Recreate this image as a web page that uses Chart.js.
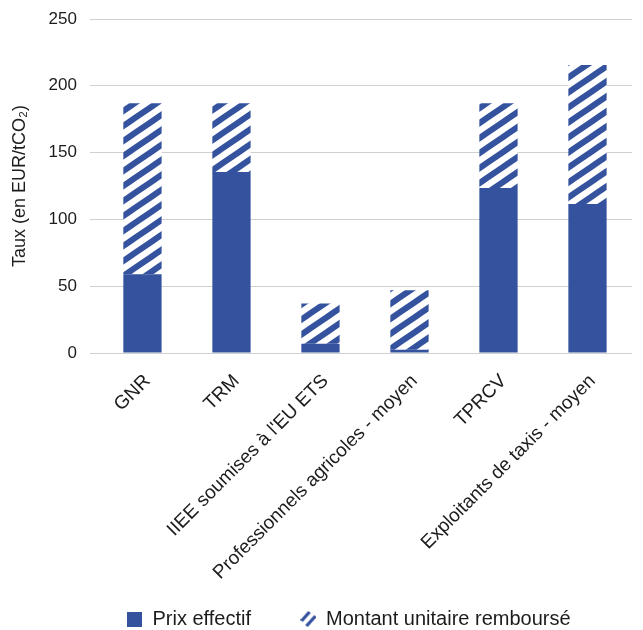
<!DOCTYPE html>
<html>
<head>
<meta charset="utf-8">
<script src="https://cdn.jsdelivr.net/npm/chart.js@4/dist/chart.umd.min.js"></script>
<style>
  html, body { margin: 0; padding: 0; background: #ffffff; }
  #wrap { width: 643px; height: 630px; position: relative; }
</style>
</head>
<body>
<div id="wrap"><canvas id="c"></canvas></div>
<script>
const categories = ["GNR", "TRM", "IIEE soumises à l'EU ETS", "Professionnels agricoles - moyen", "TPRCV", "Exploitants de taxis - moyen"];
const prixEffectif = [59, 135.5, 7, 2.5, 123.5, 111.5];
const montantRembourse = [128, 51.5, 30, 44.5, 63.5, 104];
const yTicks = [0, 50, 100, 150, 200, 250];
const seriesNames = ["Prix effectif", "Montant unitaire remboursé"];

const BLUE = '#34529d';
const TEXT = '#1c1c1c';

function makeHatch() {
  const w = 22, h = 15;
  const c = document.createElement('canvas');
  c.width = w; c.height = h;
  const ctx = c.getContext('2d');
  ctx.fillStyle = '#ffffff';
  ctx.fillRect(0, 0, w, h);
  ctx.strokeStyle = BLUE;
  ctx.lineWidth = 6;
  for (let n = -1; n <= 1; n++) {
    ctx.beginPath();
    ctx.moveTo(-w, h + h + n * h);
    ctx.lineTo(2 * w, h - 2 * h + n * h);
    ctx.stroke();
  }
  return c;
}
const hatch = document.createElement('canvas').getContext('2d').createPattern(makeHatch(), 'repeat');

function solidIcon() {
  const c = document.createElement('canvas');
  c.width = 15; c.height = 15;
  const ctx = c.getContext('2d');
  ctx.fillStyle = BLUE;
  ctx.fillRect(0, 0, 15, 15);
  return c;
}
function hatchIcon() {
  const c = document.createElement('canvas');
  c.width = 16; c.height = 16;
  const ctx = c.getContext('2d');
  ctx.strokeStyle = BLUE;
  ctx.lineWidth = 3.2;
  ctx.lineCap = 'butt';
  ctx.beginPath(); ctx.moveTo(1, 10); ctx.lineTo(9, 1); ctx.stroke();
  ctx.beginPath(); ctx.moveTo(6, 15); ctx.lineTo(15, 5); ctx.stroke();
  return c;
}
const icons = [solidIcon(), hatchIcon()];

const legendTrim = {
  id: 'legendTrim',
  beforeLayout(chart) {
    const lg = chart.legend;
    if (lg && !lg._trimmed) {
      const f = lg.fit;
      lg.fit = function () { f.call(this); this.height = this.height - 9; };
      lg._trimmed = true;
    }
  },
  afterLayout(chart) {
    const lg = chart.legend;
    if (lg) { lg.left += 31; lg.right += 31; }
  }
};

Chart.defaults.font.family = "'Liberation Sans', Arial, Helvetica, sans-serif";
Chart.defaults.color = TEXT;

new Chart(document.getElementById('c'), {
  type: 'bar',
  data: {
    labels: categories,
    datasets: [
      { label: seriesNames[0], data: prixEffectif, backgroundColor: BLUE, borderWidth: 0, categoryPercentage: 1, barPercentage: 0.43, pointStyle: icons[0] },
      { label: seriesNames[1], data: montantRembourse, backgroundColor: hatch, borderWidth: 0, categoryPercentage: 1, barPercentage: 0.43, pointStyle: icons[1] }
    ]
  },
  plugins: [legendTrim],
  options: {
    responsive: true,
    maintainAspectRatio: false,
    animation: false,
    layout: { padding: { top: 3, right: 11, left: 4, bottom: 0 } },
    plugins: {
      tooltip: { enabled: false },
      legend: {
        position: 'bottom',
        labels: {
          usePointStyle: true,
          boxWidth: 15, boxHeight: 15, padding: 50,
          font: { size: 20 },
          color: TEXT
        }
      }
    },
    scales: {
      x: {
        stacked: true,
        grid: { display: false },
        border: { display: false },
        afterFit: (s) => {
          s.height = 206;
          s._computeLabelArea = function () {
            return { top: this.top, left: 0, bottom: this.chart.height, right: this.chart.width };
          };
        },
        ticks: { autoSkip: false, maxRotation: 45, minRotation: 45, font: { size: 19 }, color: TEXT, padding: 9, labelOffset: 5 }
      },
      y: {
        stacked: true,
        min: 0, max: 250,
        afterBuildTicks: (s) => { s.ticks = yTicks.map(v => ({ value: v })); },
        afterFit: (s) => { s.paddingTop = 19; },
        grid: { color: '#d0d0d0', lineWidth: 1, drawTicks: true, tickLength: 8 },
        border: { display: false },
        ticks: { font: { size: 17 }, color: TEXT, padding: 13 },
        title: { display: true, text: 'Taux (en EUR/tCO₂)', font: { size: 18 }, color: TEXT, padding: { top: 5, bottom: 5 } }
      }
    }
  }
});
</script>
</body>
</html>
